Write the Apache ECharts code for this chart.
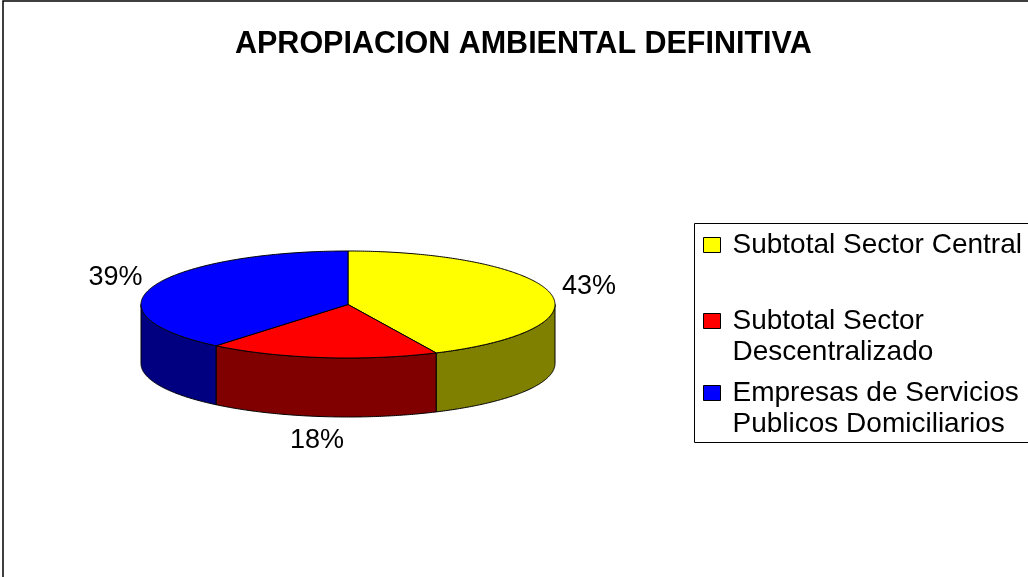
<!DOCTYPE html>
<html>
<head>
<meta charset="utf-8">
<title>APROPIACION AMBIENTAL DEFINITIVA</title>
<script src="https://cdn.jsdelivr.net/npm/echarts@6/dist/echarts.min.js"></script>
<style>
  html, body { margin: 0; padding: 0; background: #fff; }
  #chart { width: 1028px; height: 577px; }
</style>
</head>
<body>
<div id="chart"></div>
<script>
// Chart data
const titleText = 'APROPIACION AMBIENTAL DEFINITIVA';
const categories = ['Subtotal Sector Central', 'Subtotal Sector Descentralizado', 'Empresas de Servicios Publicos Domiciliarios'];
const values = [43, 18, 39];
const topColors = ['#FFFF00', '#FF0000', '#0000FF'];
const sideColors = ['#808000', '#800000', '#000080'];

const FONT = '"Liberation Sans", Arial, Helvetica, sans-serif';

// Geometry of the tilted pie (ellipse + extruded side wall)
const CX = 348, CY = 304.5, RX = 207, RY = 53.5, DEPTH = 59;
const total = values.reduce((a, b) => a + b, 0);

function pt(a, dy) {
  return [CX + RX * Math.sin(a), CY - RY * Math.cos(a) + (dy || 0)];
}
function arc(a0, a1, dy) {
  const n = Math.max(2, Math.ceil(Math.abs(a1 - a0) / 0.01));
  const out = [];
  for (let k = 0; k <= n; k++) out.push(pt(a0 + (a1 - a0) * k / n, dy));
  return out;
}

function makeRenderItem(idx) {
  return function (params, api) {
    const v = api.value(0);
    let before = 0;
    for (let k = 0; k < idx; k++) before += values[k];
    const start = before / total * Math.PI * 2;
    const end = start + v / total * Math.PI * 2;
    const children = [];

    // front side wall (only the lower half of the rim is visible)
    const s = Math.max(start, Math.PI / 2), e = Math.min(end, Math.PI * 1.5);
    if (s < e) {
      const pts = arc(s, e, 0).concat(arc(e, s, DEPTH));
      children.push({
        type: 'polygon', z2: 1,
        shape: { points: pts },
        style: { fill: sideColors[idx], stroke: '#000', lineWidth: 1, lineJoin: 'round' }
      });
    }

    // top face
    children.push({
      type: 'polygon', z2: 2,
      shape: { points: [[CX, CY]].concat(arc(start, end, 0)) },
      style: { fill: topColors[idx], stroke: '#000', lineWidth: 1, lineJoin: 'round' }
    });

    // percentage label outside the slice
    const mid = (start + end) / 2;
    const sn = Math.sin(mid), cs = Math.cos(mid);
    const lx = CX + (RX + 40) * sn;
    const ly = CY - (RY + 27.5) * cs + (cs < 0 ? -cs * DEPTH * 0.95 : 0);
    children.push({
      type: 'text', z2: 3,
      x: lx, y: ly,
      style: {
        text: Math.round(v / total * 100) + '%',
        font: '27px ' + FONT,
        fill: '#000',
        align: 'center',
        verticalAlign: 'middle'
      }
    });
    return { type: 'group', children: children };
  };
}

const series = categories.map((name, i) => ({
  type: 'custom',
  name: name,
  coordinateSystem: 'none',
  itemStyle: { color: topColors[i] },
  renderItem: makeRenderItem(i),
  data: [[values[i]]],
  silent: true,
  animation: false
}));

// Greedy word wrap of legend names to the width of the legend box
const LEGEND_FONT_SIZE = 28;
const measureCtx = document.createElement('canvas').getContext('2d');
measureCtx.font = LEGEND_FONT_SIZE + 'px ' + FONT;
function wrapName(name, maxWidth) {
  const words = name.split(' ');
  const lines = [];
  let line = '';
  words.forEach(w => {
    const test = line ? line + ' ' + w : w;
    if (line && measureCtx.measureText(test).width > maxWidth) {
      lines.push(line);
      line = w;
    } else {
      line = test;
    }
  });
  if (line) lines.push(line);
  return lines;
}

// Legend entries, one block per category; the swatch sits beside the first line
const legendTops = [229.5, 274.5, 346.5];
const legends = categories.map((name, i) => ({
  data: [name],
  orient: 'vertical',
  left: 703,
  top: legendTops[i],
  padding: 0,
  itemWidth: 17,
  itemHeight: 15,
  icon: 'rect',
  selectedMode: false,
  itemStyle: { borderColor: '#000', borderWidth: 1 },
  formatter: function (n) {
    const lines = wrapName(n, 292);
    // an empty leading line keeps the first text line level with the swatch
    return lines.length > 1 ? '\n' + lines.join('\n') : lines[0];
  },
  textStyle: {
    fontFamily: FONT,
    fontSize: LEGEND_FONT_SIZE,
    lineHeight: 31,
    color: '#000',
    padding: [0, 0, 0, 7]
  }
}));

const chart = echarts.init(document.getElementById('chart'), null, { renderer: 'canvas' });
chart.setOption({
  backgroundColor: '#fff',
  animation: false,
  title: {
    text: titleText,
    left: 235,
    top: 29,
    padding: 0,
    textStyle: { fontFamily: FONT, fontSize: 30.5, fontWeight: 'bold', color: '#000' }
  },
  legend: legends,
  graphic: [
    // outer chart frame
    { type: 'rect', z: -1, shape: { x: 3, y: 1, width: 1100, height: 700 },
      style: { fill: 'none', stroke: '#000', lineWidth: 1.5 } },
    // legend frame
    { type: 'rect', z: -1, shape: { x: 694.5, y: 223.5, width: 400, height: 219 },
      style: { fill: 'none', stroke: '#000', lineWidth: 1 } }
  ],
  series: series
});
</script>
</body>
</html>
